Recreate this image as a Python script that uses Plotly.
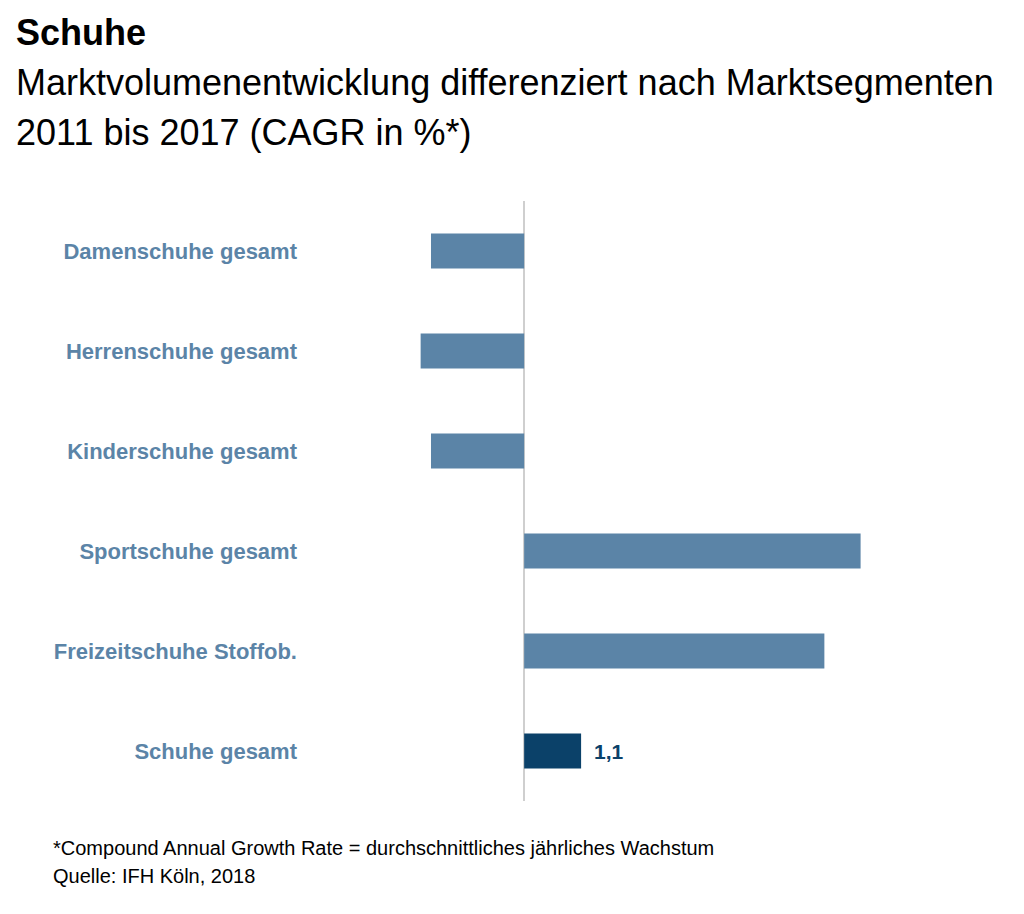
import plotly.graph_objects as go

categories = ["Damenschuhe gesamt", "Herrenschuhe gesamt", "Kinderschuhe gesamt",
              "Sportschuhe gesamt", "Freizeitschuhe Stoffob.", "Schuhe gesamt"]
cagr = [-1.8, -2.0, -1.8, 6.5, 5.8, 1.1]
bar_colors = ["#5b84a7", "#5b84a7", "#5b84a7", "#5b84a7", "#5b84a7", "#0b4169"]
value_labels = ["", "", "", "", "", "1,1"]

FONT = "Liberation Sans, Arial, sans-serif"
LABEL_COLOR = "#5b84a7"

# page pixel geometry (the page body has an 8px margin)
OFF = 8
L, R = 343, 990          # plot left/right in page pixels
TOP, BOT = 201, 801      # plot top/bottom in page pixels
W, Hh = 1024 - OFF, 914 - OFF

fig = go.Figure()
fig.add_trace(go.Bar(
    x=cagr, y=categories, orientation="h",
    marker=dict(color=bar_colors, line=dict(width=0)),
    hoverinfo="skip",
))

annotations = []
for cat, v, lab in zip(categories, cagr, value_labels):
    if lab:
        annotations.append(dict(x=v, y=cat, xref="x", yref="y", text="<b>%s</b>" % lab,
                                showarrow=False, xanchor="left", yanchor="middle", xshift=11,
                                font=dict(family=FONT, size=21, color="#0b4169")))

def px(pix):
    return (pix - L) / (R - L)

def py(pix):
    return (BOT - pix) / (BOT - TOP)

def txt(text, x, y, size, bold=False):
    return dict(text=("<b>%s</b>" % text) if bold else text, x=px(x), y=py(y),
                xref="paper", yref="paper", showarrow=False, xanchor="left", yanchor="middle",
                font=dict(family=FONT, size=size, color="#000000"))

annotations += [
    txt("Schuhe", 14, 33, 36, bold=True),
    txt("Marktvolumenentwicklung differenziert nach Marktsegmenten", 14, 82, 36),
    txt("2011 bis 2017 (CAGR in %*)", 14, 132, 36),
    txt("*Compound Annual Growth Rate = durchschnittliches jährliches Wachstum", 51, 848, 20),
    txt("Quelle: IFH Köln, 2018", 51, 876, 20),
]

fig.update_layout(
    width=W, height=Hh,
    margin=dict(l=L - OFF, r=W - (R - OFF), t=TOP - OFF, b=Hh - (BOT - OFF)),
    paper_bgcolor="white", plot_bgcolor="white",
    showlegend=False, bargap=0.65,
    xaxis=dict(range=[-3.5, 9.0], showgrid=False, showticklabels=False, ticks="",
               zeroline=True, zerolinecolor="#cfcfcf", zerolinewidth=1.5, fixedrange=True),
    yaxis=dict(autorange="reversed", showgrid=False, ticks="", ticklabelstandoff=45,
               tickfont=dict(family=FONT, size=22, color=LABEL_COLOR, weight="bold"),
               fixedrange=True),
    annotations=annotations,
    font=dict(family=FONT),
)

fig.write_html("out.html")
